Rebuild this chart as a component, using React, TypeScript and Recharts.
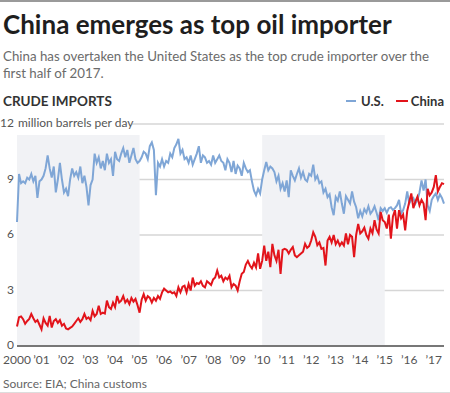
import React from "react"
import { LineChart, Line, XAxis, YAxis, CartesianGrid, ReferenceArea } from "recharts"

// monthly, Jan 2000 - Jun 2017, million barrels per day
const startYear = 2000
const usImports = [
  6.7, 9.3, 8.8, 8.9, 8.8, 9.1, 9.0, 9.3, 8.9, 9.2, 8.0, 8.9,
  9.0, 9.2, 9.6, 10.3, 9.6, 9.1, 9.7, 8.3, 9.0, 9.9, 9.0, 8.3,
  8.5, 8.1, 9.0, 9.6, 9.2, 9.4, 9.1, 9.7, 8.8, 9.2, 8.6, 7.6,
  8.7, 9.0, 10.4, 9.9, 10.2, 9.6, 10.0, 9.5, 10.4, 9.9, 10.1, 9.2,
  10.5, 10.1, 10.0, 10.4, 10.7, 10.2, 10.6, 9.9, 10.3, 10.7, 10.1, 9.9,
  10.0, 10.2, 10.5, 10.4, 10.1, 10.8, 11.0, 10.6, 8.15, 9.9, 9.7, 10.1,
  9.7, 10.0, 9.9, 10.4, 10.2, 10.7, 10.9, 11.2, 10.4, 10.6, 10.1, 10.2,
  9.9, 10.3, 9.8, 10.1, 10.4, 10.8, 9.9, 10.3, 10.2, 9.9, 10.0, 9.8,
  10.3, 9.9, 10.1, 10.3, 10.0, 9.9, 9.5, 10.1, 9.9, 9.4, 10.0, 9.3,
  9.75, 9.6, 9.2, 9.9, 9.6, 9.4, 9.5, 8.9, 8.4, 8.15, 8.5, 8.25,
  9.0, 9.5, 9.95, 9.5, 9.7, 9.6, 9.4, 8.9, 9.2, 8.5, 8.8, 8.35,
  8.95, 8.05, 9.5, 9.2, 8.95, 9.3, 9.6, 9.1, 9.4, 9.0, 8.9, 9.3,
  9.2, 9.8, 9.0, 9.2, 8.8, 8.9, 8.3, 8.5, 8.05, 8.2, 7.5, 7.07,
  8.05, 7.85, 8.35, 7.7, 7.15, 8.1, 7.9, 7.7, 8.35, 7.8, 7.5, 6.9,
  7.3, 7.0, 7.4, 7.2, 7.55, 7.15, 7.3, 7.55, 7.2, 6.8, 7.45, 7.3,
  7.45, 7.2, 7.45, 7.5, 7.35, 7.45, 7.6, 7.9, 7.15, 7.35, 7.7, 8.35,
  7.7, 7.9, 8.0, 7.7, 7.9, 8.3, 8.95, 8.4, 9.0, 7.6, 7.3, 7.9,
  8.1, 8.25, 7.9, 8.2, 8.0, 7.7,
]
const chinaImports = [
  1.05, 1.55, 1.6, 1.45, 1.2, 1.35, 1.46, 1.73, 1.5, 1.3, 1.4, 1.15,
  0.9, 1.5, 1.25, 1.1, 1.63, 1.0, 1.35, 1.45, 1.25, 1.4, 1.1, 1.2,
  0.95, 0.9, 0.98, 1.05, 1.2, 1.35, 1.5, 1.3, 1.45, 1.73, 1.46, 1.55,
  1.4, 1.9, 1.6, 1.73, 2.17, 1.73, 1.8, 1.75, 2.45, 2.1, 2.0, 2.35,
  2.1, 2.7, 2.35, 2.45, 2.7, 2.35, 2.5, 2.27, 2.6, 2.4, 2.55, 2.2,
  1.8, 2.5, 2.8, 2.45, 2.7, 2.6, 2.35, 2.6, 2.45, 2.7, 2.55, 2.9,
  3.1, 3.0, 2.9, 2.95, 2.85, 2.9, 2.7, 3.17, 2.9, 3.2, 3.26, 2.9,
  3.35, 3.0, 3.7, 3.26, 3.4, 3.35, 3.5, 3.25, 3.17, 3.5, 3.4, 3.3,
  3.6, 3.7, 4.08, 3.7, 3.8, 3.5, 3.7, 3.6, 3.8, 3.17, 3.35, 3.26,
  3.0, 3.5, 3.9, 4.0, 4.4, 4.6, 4.35, 4.2, 4.5, 4.25, 5.0, 4.17,
  4.6, 5.43, 4.6, 5.1, 4.26, 5.52, 4.9, 4.6, 5.2, 3.9, 5.2, 5.25,
  5.2, 5.0, 5.2, 5.35, 4.9, 4.8, 4.9, 5.0, 5.1, 5.52, 5.3, 5.4,
  5.7, 6.15, 5.9, 5.45, 5.6, 5.25, 5.3, 4.35, 5.7, 5.9, 5.6, 6.0,
  5.5, 5.7, 5.43, 5.6, 5.43, 6.08, 5.5, 6.0, 5.9, 4.8, 6.0, 6.6,
  6.08, 6.2, 6.4, 6.0, 5.8, 6.35, 6.1, 6.8, 6.3, 6.08, 7.25, 6.8,
  6.7, 6.35, 7.1, 5.8, 7.0, 7.34, 6.35, 7.34, 6.9, 7.1, 6.25, 7.3,
  7.8, 8.25, 7.45, 7.8, 8.07, 7.6, 7.9, 7.7, 6.8, 8.5, 8.15, 8.3,
  8.6, 9.24, 8.35, 8.6, 8.8, 8.75,
]
const yTicks = [0, 3, 6, 9, 12]
const yearTicks = [2000, 2001, 2002, 2003, 2004, 2005, 2006, 2007, 2008, 2009, 2010, 2011, 2012, 2013, 2014, 2015, 2016, 2017]
const shadedSpans = [[2000, 2005], [2010, 2015]]

const monthKey = (i: number) => {
  const y = startYear + Math.floor(i / 12)
  const m = (i % 12) + 1
  return `${y}-${m < 10 ? "0" + m : m}`
}

const data = usImports.map((us, i) => ({
  month: monthKey(i),
  us,
  china: chinaImports[i],
}))

const FONT = "Lato, 'Noto Sans', sans-serif"
const US_COLOR = "#7fa6d6"
const CHINA_COLOR = "#e2141b"

function YTick(props: any) {
  const { x, y, payload } = props
  const v = payload.value
  return (
    <g>
      {v === 12 && <rect x={x + 2} y={y - 9} width={116} height={17} fill="#fff" />}
      <text x={x} y={y} dy={3} textAnchor="end" fontSize={12} fill="#555" fontFamily={FONT}>
        {v}
      </text>
      {v === 12 && (
        <text x={x + 4} y={y} dy={3} textAnchor="start" fontSize={12} fill="#555" fontFamily={FONT}>
          million barrels per day
        </text>
      )}
    </g>
  )
}

const yearLabel = (m: string) => {
  const y = m.slice(0, 4)
  return y === "2000" ? y : "\u2019" + y.slice(2)
}

export default function App() {
  return (
    <div style={{ position: "absolute", left: 0, top: 0, width: 450, height: 393, background: "#fff", fontFamily: FONT, overflow: "hidden" }}>
      <div style={{ position: "absolute", left: 0, top: 0, width: 450, height: 2, background: "#9a9a9a" }} />
      <div style={{ position: "absolute", left: 3, top: 8, fontSize: 26, fontWeight: 700, color: "#1e1e1e", whiteSpace: "nowrap" }}>
        China emerges as top oil importer
      </div>
      <div style={{ position: "absolute", left: 3, top: 48, fontSize: 13.3, lineHeight: "17px", color: "#6b6b6b", whiteSpace: "nowrap" }}>
        China has overtaken the United States as the top crude importer over the
        <br />
        first half of 2017.
      </div>
      <div style={{ position: "absolute", left: 3, top: 93, fontSize: 13.5, fontWeight: 700, color: "#333" }}>
        CRUDE IMPORTS
      </div>
      <div style={{ position: "absolute", right: 6, top: 93, fontSize: 13, fontWeight: 700, color: "#333", display: "flex", alignItems: "center", whiteSpace: "nowrap" }}>
        <span style={{ display: "inline-block", width: 10, height: 2, background: US_COLOR, marginRight: 5 }} />
        <span>U.S.</span>
        <span style={{ display: "inline-block", width: 12, height: 2, background: CHINA_COLOR, marginLeft: 12, marginRight: 3 }} />
        <span>China</span>
      </div>

      <div style={{ position: "absolute", left: 0, top: 0 }}>
        <LineChart width={450} height={393} data={data} margin={{ top: 124, right: 6, left: 0, bottom: 17 }}>
          {shadedSpans.map(([a, b]) => (
            <ReferenceArea
              key={a}
              x1={`${a}-01`}
              x2={`${b}-01`}
              y1={0}
              y2={11.4}
              fill="#f1f2f5"
              fillOpacity={1}
              stroke="none"
              ifOverflow="visible"
            />
          ))}
          <CartesianGrid vertical={false} stroke="#d6d6d6" strokeWidth={1.5} />
          <XAxis
            dataKey="month"
            ticks={yearTicks.map((y) => `${y}-01`)}
            interval={0}
            tickFormatter={yearLabel}
            tick={{ fill: "#555", fontSize: 12, fontFamily: FONT }}
            tickLine={false}
            tickSize={0}
            tickMargin={9}
            axisLine={{ stroke: "#777", strokeWidth: 2 }}
            height={30}
          />
          <YAxis
            domain={[0, 12]}
            ticks={yTicks}
            width={17}
            tick={<YTick />}
            tickLine={false}
            tickSize={0}
            tickMargin={3}
            axisLine={false}
            interval={0}
          />
          <Line
            type="linear"
            dataKey="us"
            stroke={US_COLOR}
            strokeWidth={2}
            dot={false}
            isAnimationActive={false}
          />
          <Line
            type="linear"
            dataKey="china"
            stroke={CHINA_COLOR}
            strokeWidth={2}
            dot={false}
            isAnimationActive={false}
          />
        </LineChart>
      </div>

      <div style={{ position: "absolute", left: 3, top: 376, fontSize: 12, color: "#666" }}>
        Source: EIA; China customs
      </div>
      <div style={{ position: "absolute", left: 0, top: 392, width: 450, height: 1, background: "#ddd" }} />
    </div>
  )
}
